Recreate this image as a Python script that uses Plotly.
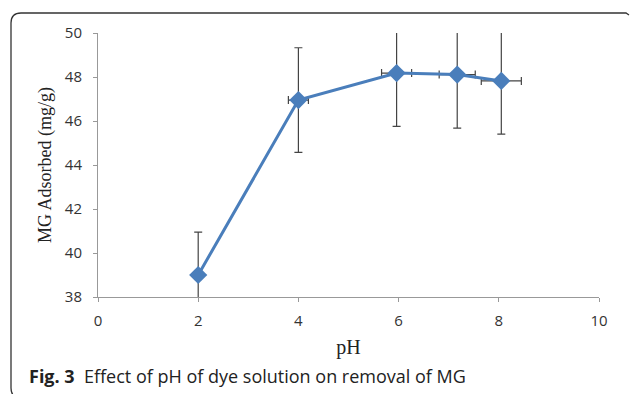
import plotly.graph_objects as go

ph = [2, 4, 5.96, 7.17, 8.05]
adsorbed = [39.0, 46.95, 48.18, 48.11, 47.82]
y_err = [1.95, 2.38, 2.42, 2.43, 2.42]
x_err = [0.08, 0.2, 0.3, 0.36, 0.4]
x_ticks = [0, 2, 4, 6, 8, 10]
y_ticks = [38, 40, 42, 44, 46, 48, 50]

W, H = 630, 394
L, R, T, B = 98, 31, 33, 97
pw, ph_ = W - L - R, H - T - B


def px(x):
    return (x - L) / pw


def py(y):
    return (H - B - y) / ph_


fig = go.Figure()
fig.add_trace(go.Scatter(
    x=ph, y=adsorbed, mode="lines+markers",
    line=dict(color="#4a7ebb", width=3),
    marker=dict(symbol="diamond", size=14, color="#4a7ebb"),
    error_y=dict(type="data", array=y_err, visible=True, color="#444", thickness=1.2, width=4),
    error_x=dict(type="data", array=x_err, visible=True, color="#444", thickness=1.2, width=4),
    showlegend=False,
))

# rounded frame
r = 10
x0, x1, y0, y1 = 11, 629, 13, 398
path = (f"M {px(x0)},{py(y0 + r)} Q {px(x0)},{py(y0)} {px(x0 + r)},{py(y0)} "
        f"L {px(x1 - 3)},{py(y0)} L {px(x1)},{py(y0 + 2)} "
        f"M {px(x0)},{py(y0 + r)} L {px(x0)},{py(y1 - r)} Q {px(x0)},{py(y1)} {px(x0 + r)},{py(y1)}")
fig.add_shape(type="path", path=path, xref="paper", yref="paper",
              line=dict(color="#333", width=1.3), layer="above")

fig.add_annotation(
    x=px(27), y=py(376), xref="paper", yref="paper", xanchor="left", yanchor="middle",
    text="<b>Fig. 3</b>  Effect of pH of dye solution on removal of MG",
    showarrow=False, font=dict(family="Open Sans", size=18, color="#222"),
)

fig.update_layout(
    width=W, height=H,
    margin=dict(l=L, r=R, t=T, b=B),
    paper_bgcolor="white", plot_bgcolor="white",
    xaxis=dict(
        range=[0, 10], tickvals=x_ticks, showgrid=False, zeroline=False,
        showline=True, linecolor="#999", linewidth=1, ticks="outside", ticklen=4,
        tickcolor="#999", tickfont=dict(family="Open Sans", size=15, color="#333"),
        ticklabelstandoff=6,
        title=dict(text="pH", font=dict(family="Liberation Serif", size=20, color="#222"), standoff=10),
    ),
    yaxis=dict(
        range=[38, 50], tickvals=y_ticks, showgrid=False, zeroline=False,
        showline=True, linecolor="#999", linewidth=1, ticks="outside", ticklen=4,
        tickcolor="#999", tickfont=dict(family="Open Sans", size=15, color="#333"),
        ticklabelstandoff=8,
        title=dict(text="MG Adsorbed (mg/g)", font=dict(family="Liberation Serif", size=18, color="#222"), standoff=8),
    ),
)

fig.write_html("out.html")
